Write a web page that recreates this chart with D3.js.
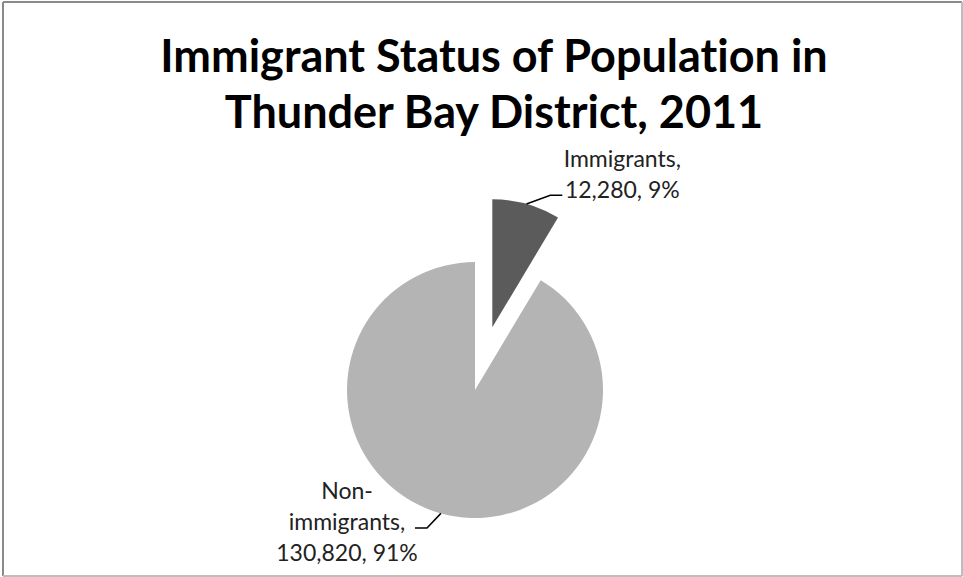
<!DOCTYPE html>
<html>
<head>
<meta charset="utf-8">
<script src="https://cdn.jsdelivr.net/npm/d3@7"></script>
<style>
  html, body { margin: 0; padding: 0; background: #fff; }
  svg { display: block; }
  text { font-variant-ligatures: none; }
</style>
</head>
<body>
<svg id="chart" width="963" height="577"></svg>
<script>
// Population by immigrant status, Thunder Bay District, 2011
const categories = ["Immigrants", "Non-immigrants"];
const populations = [12280, 130820];
const titleLines = ["Immigrant Status of Population in", "Thunder Bay District, 2011"];

const W = 963, H = 577;
const svg = d3.select("#chart");

// frame
svg.append("line").attr("x1", 3).attr("y1", 2).attr("x2", 3).attr("y2", 576)
  .attr("stroke", "#8a8a8a").attr("stroke-width", 2);
svg.append("line").attr("x1", 3).attr("y1", 2).attr("x2", 962).attr("y2", 2)
  .attr("stroke", "#8a8a8a").attr("stroke-width", 2);
svg.append("line").attr("x1", 962).attr("y1", 2).attr("x2", 962).attr("y2", 576)
  .attr("stroke", "#bdbdbd").attr("stroke-width", 2);
svg.append("line").attr("x1", 3).attr("y1", 576).attr("x2", 962).attr("y2", 576)
  .attr("stroke", "#bdbdbd").attr("stroke-width", 2);

// title
const titleFont = "Lato, 'Open Sans', sans-serif";
svg.append("text")
  .attr("text-anchor", "middle")
  .style("font-family", titleFont).style("font-weight", "bold").style("font-size", "45px")
  .selectAll("tspan").data(titleLines).join("tspan")
  .attr("x", 494).attr("y", (d, i) => 72 + i * 56)
  .text(d => d);

// pie
const cx = 475, cy = 390, R = 128;
const explode = 65;
const color = d3.scaleOrdinal().domain(categories).range(["#5b5b5b", "#b4b4b4"]);

const data = categories.map((c, i) => ({ category: c, value: populations[i] }));
const total = d3.sum(populations);
const pie = d3.pie().value(d => d.value).sort(null);
const arcs = pie(data);
const arc = d3.arc().innerRadius(0).outerRadius(R);

const fmtNum = d3.format(",");
const fmtPct = d3.format(".0%");

const g = svg.append("g").attr("transform", `translate(${cx},${cy})`);

arcs.forEach((a, i) => {
  const mid = (a.startAngle + a.endAngle) / 2;
  const off = i === 0 ? explode : 0;
  a.dx = off * Math.sin(mid);
  a.dy = -off * Math.cos(mid);
  a.mid = mid;
});

g.selectAll("path.slice").data(arcs).join("path")
  .attr("class", "slice")
  .attr("transform", d => `translate(${d.dx},${d.dy})`)
  .attr("d", arc)
  .attr("fill", d => color(d.data.category));

// data labels with leader lines
const labelFont = "Lato, 'Open Sans', sans-serif";
const labelSpecs = [
  { lines: d => [d.data.category + ",", fmtNum(d.data.value) + ", " + fmtPct(d.data.value / total)],
    elbow: [58, -132], end: [70, -132], textX: 130, textY: -160 },
  { lines: d => ["Non-", "immigrants,", fmtNum(d.data.value) + ", " + fmtPct(d.data.value / total)],
    elbow: [-48, 138], end: [-60, 138], textX: -128, textY: 109 }
];

arcs.forEach((a, i) => {
  const s = labelSpecs[i];
  const ox = a.dx, oy = a.dy;
  const start = [ox + R * Math.sin(a.mid), oy - R * Math.cos(a.mid)];
  const pts = [start, [ox + s.elbow[0], oy + s.elbow[1]], [ox + s.end[0], oy + s.end[1]]];
  g.append("path")
    .attr("d", d3.line()(pts))
    .attr("fill", "none").attr("stroke", "#000").attr("stroke-width", 1.5);
  const t = g.append("text")
    .attr("text-anchor", "middle")
    .style("font-family", labelFont).style("font-size", "23px").attr("fill", "#222");
  s.lines(a).forEach((ln, j) => {
    t.append("tspan").attr("x", ox + s.textX).attr("y", oy + s.textY + j * 31).text(ln);
  });
});
</script>
</body>
</html>
